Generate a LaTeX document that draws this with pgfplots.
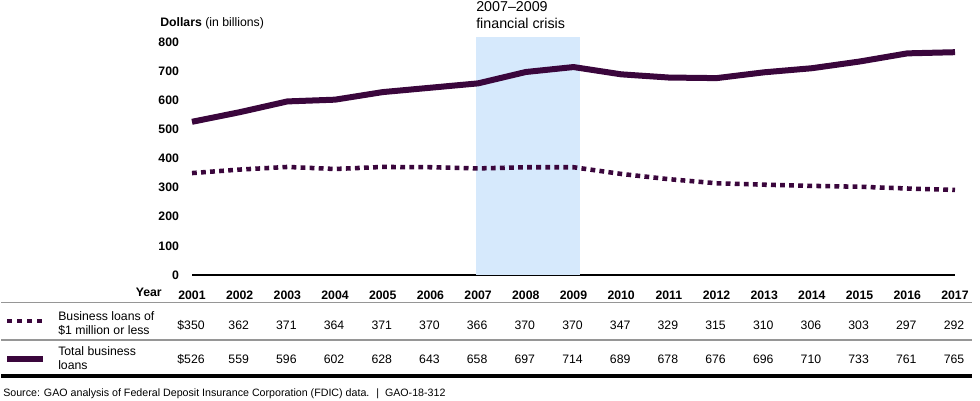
\documentclass[border=0pt]{standalone}
\usepackage{pgfplots}
\pgfplotsset{compat=1.18}
\usepackage{fontspec}
\setmainfont{Liberation Sans}
\definecolor{loan}{RGB}{58,6,60}
\definecolor{crisis}{RGB}{214,233,252}
\definecolor{rule}{RGB}{150,150,150}
\begin{document}
\begin{tikzpicture}
\path[use as bounding box] (0,0) rectangle (735pt,300pt);
\begin{axis}[
  at={(144pt,93.75pt)}, anchor=south west,
  scale only axis, width=572.25pt, height=174.75pt,
  xmin=2001, xmax=2017, ymin=0, ymax=800,
  clip=false,
  axis lines=left,
  axis line style={-},
  y axis line style={draw=none},
  x axis line style={line width=1.5pt},
  tick style={draw=none},
  xtick={2001,2002,...,2017},
  ytick={0,100,...,800},
  /pgf/number format/1000 sep={},
  /pgf/number format/assume math mode=true,
  xticklabel style={font=\fontsize{9.2}{10}\selectfont\bfseries, anchor=base, inner sep=0pt, yshift=-16.3pt},
  yticklabel style={font=\fontsize{9.2}{10}\selectfont\bfseries, anchor=east, inner sep=0pt, xshift=-7.5pt},
]
\fill[crisis] (axis cs:2006.95,0) rectangle (axis cs:2009.13,817);
\addplot[loan, line width=3.4pt, dash pattern=on 3.6pt off 3.2pt] coordinates {
(2001,350)(2002,362)(2003,371)(2004,364)(2005,371)(2006,370)(2007,366)(2008,370)(2009,370)
(2010,347)(2011,329)(2012,315)(2013,310)(2014,306)(2015,303)(2016,297)(2017,292)};
\addplot[loan, line width=4.5pt, line join=round] coordinates {
(2001,526)(2002,559)(2003,596)(2004,602)(2005,628)(2006,643)(2007,658)(2008,697)(2009,714)
(2010,689)(2011,678)(2012,676)(2013,696)(2014,710)(2015,733)(2016,761)(2017,765)};
\end{axis}
\begin{scope}[x=0.75pt,y=0.75pt]
% titles
\node[anchor=base west, inner sep=0pt, font=\fontsize{9.2}{10}\selectfont] at (160,373) {\textbf{Dollars} (in billions)};
\node[anchor=base west, inner sep=0pt, font=\fontsize{10.7}{12}\selectfont] at (476,388.3) {2007--2009};
\node[anchor=base west, inner sep=0pt, font=\fontsize{10.7}{12}\selectfont] at (476,371.7) {financial crisis};
% table
\node[anchor=base east, inner sep=0pt, font=\fontsize{9.2}{10}\selectfont\bfseries] at (162,103.3) {Year};
\draw[rule, line width=1.1pt] (1,97.3) -- (972,97.3);
\draw[rule, line width=1.1pt] (1,60) -- (972,60);
\draw[black, line width=2.3pt] (1,24) -- (972,24);
\draw[loan, line width=3.4pt, dash pattern=on 3.75pt off 3.75pt] (7,79) -- (44,79);
\draw[loan, line width=4.7pt] (7,41) -- (43,41);
\node[anchor=base west, inner sep=0pt, font=\fontsize{9.2}{10}\selectfont] at (58,80) {Business loans of};
\node[anchor=base west, inner sep=0pt, font=\fontsize{9.2}{10}\selectfont] at (58,66) {\$1 million or less};
\node[anchor=base west, inner sep=0pt, font=\fontsize{9.2}{10}\selectfont] at (58,44.3) {Total business};
\node[anchor=base west, inner sep=0pt, font=\fontsize{9.2}{10}\selectfont] at (58,31) {loans};
\foreach \v [count=\i from 0] in {\$350,362,371,364,371,370,366,370,370,347,329,315,310,306,303,297,292}
  {\node[anchor=base, inner sep=0pt, font=\fontsize{9.2}{10}\selectfont] at ({191+\i*47.6875},71) {\v};}
\foreach \v [count=\i from 0] in {\$526,559,596,602,628,643,658,697,714,689,678,676,696,710,733,761,765}
  {\node[anchor=base, inner sep=0pt, font=\fontsize{9.2}{10}\selectfont] at ({191+\i*47.6875},36.7) {\v};}
\node[anchor=base west, inner sep=0pt, font=\fontsize{8}{9}\selectfont] at (3,4) {Source: GAO analysis of Federal Deposit Insurance Corporation (FDIC) data. \ \textbar\ \ GAO-18-312};
\end{scope}
\end{tikzpicture}
\end{document}
